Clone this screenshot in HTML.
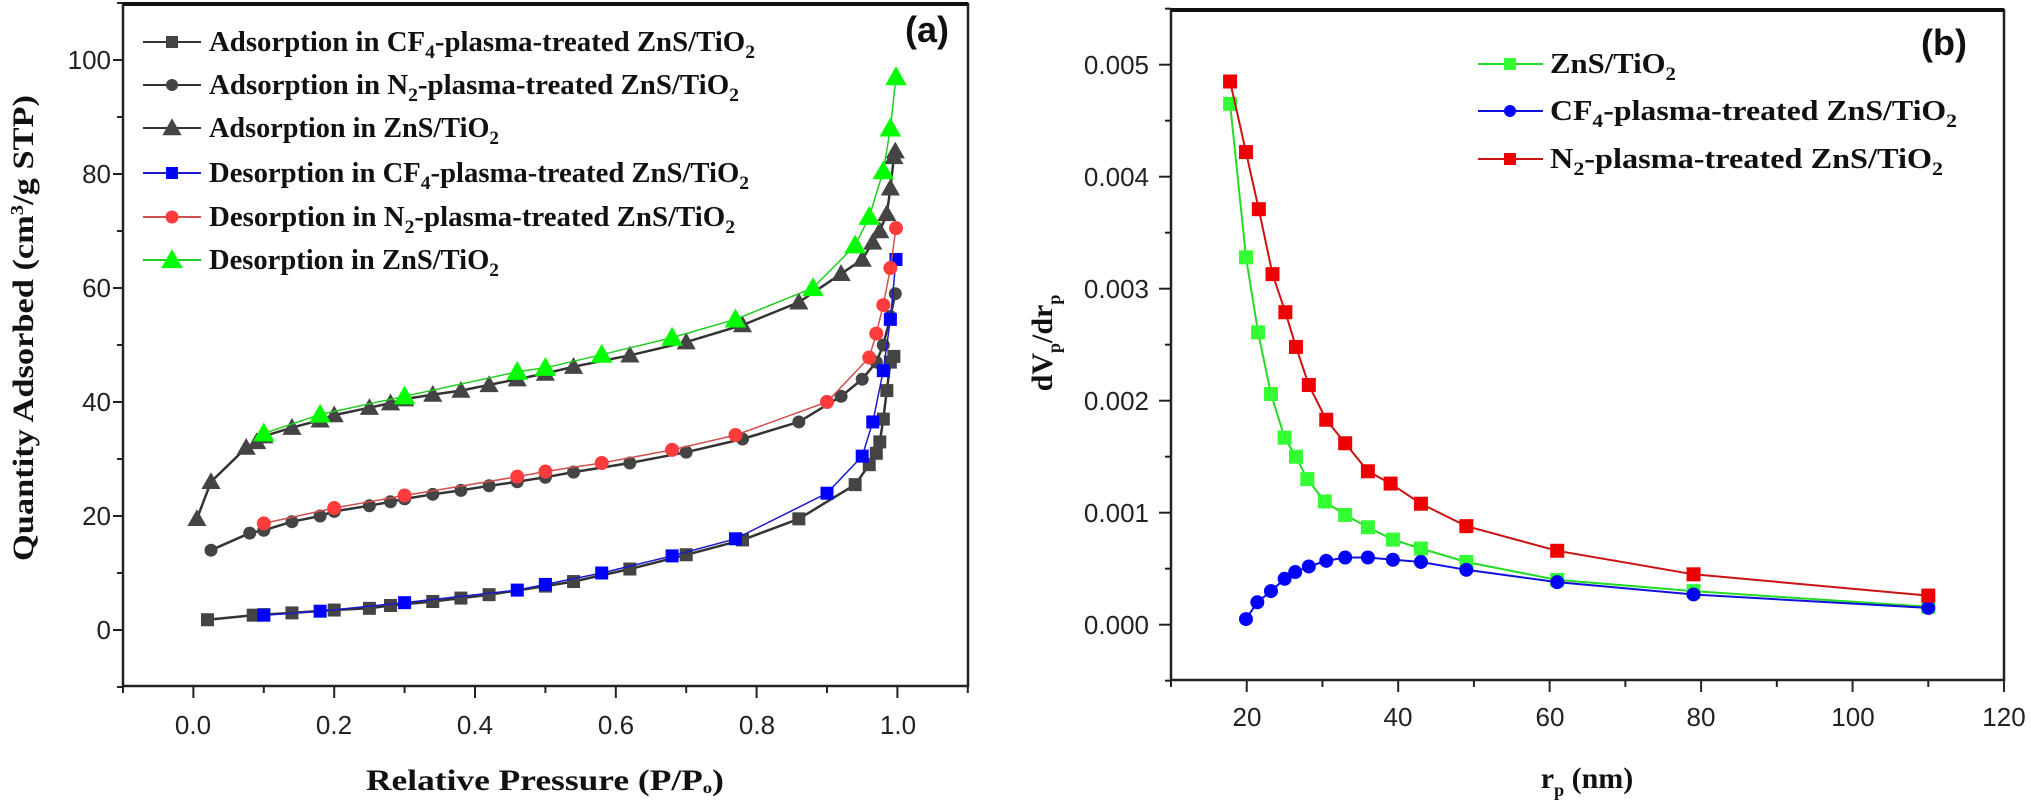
<!DOCTYPE html>
<html><head><meta charset="utf-8"><style>
html,body{margin:0;padding:0;background:#fff}
svg{display:block}
.tk{font-family:"Liberation Sans",Arial,sans-serif;font-size:26px;fill:#222}
.lg{font-family:"Liberation Serif",serif;font-weight:bold;font-size:28px;fill:#111}
.tt{font-family:"Liberation Serif",serif;font-weight:bold;font-size:30px;fill:#111}
.pl{font-family:"Liberation Sans",sans-serif;font-weight:bold;font-size:36px;fill:#111}
</style></head><body>
<svg id="s" width="2031" height="803" viewBox="0 0 2031 803" xmlns="http://www.w3.org/2000/svg">
<rect width="2031" height="803" fill="#fff"/>
<rect x="123" y="4" width="845" height="682" fill="none" stroke="#222" stroke-width="2.5"/>
<line x1="123" y1="4" x2="968" y2="4" stroke="#111" stroke-width="4"/>
<g id="ta"></g>
<g class="tk" text-anchor="end">
<text x="111" y="639">0</text><text x="111" y="525">20</text><text x="111" y="411">40</text>
<text x="111" y="297">60</text><text x="111" y="183">80</text><text x="111" y="69">100</text>
</g>
<g class="tk" text-anchor="middle">
<text x="193" y="734">0.0</text><text x="334" y="734">0.2</text><text x="475" y="734">0.4</text>
<text x="616" y="734">0.6</text><text x="757" y="734">0.8</text><text x="898" y="734">1.0</text>
</g>
<text class="tt" x="545" y="790" text-anchor="middle" textLength="358" lengthAdjust="spacingAndGlyphs">Relative Pressure (P/P<tspan font-size="16" dy="3">o</tspan><tspan dy="-3">)</tspan></text>
<text class="tt" transform="translate(33,328) rotate(-90)" text-anchor="middle" textLength="466" lengthAdjust="spacingAndGlyphs">Quantity Adsorbed (cm<tspan font-size="18" dy="-10">3</tspan><tspan dy="10">/g STP)</tspan></text>
<text class="pl" x="905" y="42">(a)</text>

<rect x="1171" y="10" width="833" height="670" fill="none" stroke="#222" stroke-width="2.5"/>
<line x1="1171" y1="10" x2="2004" y2="10" stroke="#111" stroke-width="4"/>
<g id="tb"></g>
<g class="tk" text-anchor="end">
<text x="1149" y="634">0.000</text><text x="1149" y="522">0.001</text><text x="1149" y="410">0.002</text>
<text x="1149" y="298">0.003</text><text x="1149" y="186">0.004</text><text x="1149" y="74">0.005</text>
</g>
<g class="tk" text-anchor="middle">
<text x="1247" y="726">20</text><text x="1398" y="726">40</text><text x="1550" y="726">60</text>
<text x="1701" y="726">80</text><text x="1853" y="726">100</text><text x="2004" y="726">120</text>
</g>
<text class="tt" x="1587" y="788" text-anchor="middle">r<tspan font-size="18" dy="8">p</tspan><tspan dy="-8"> (nm)</tspan></text>
<text class="tt" transform="translate(1052,343) rotate(-90)" text-anchor="middle">dV<tspan font-size="18" dy="8">p</tspan><tspan dy="-8">/dr</tspan><tspan font-size="18" dy="8">p</tspan></text>
<text class="pl" x="1921" y="55">(b)</text>

<g id="data"></g>
<g id="leg"></g>
<g class="lg">
<text x="209" y="51" textLength="546" lengthAdjust="spacingAndGlyphs">Adsorption in CF<tspan font-size="19" dy="7">4</tspan><tspan dy="-7">-plasma-treated ZnS/TiO</tspan><tspan font-size="19" dy="7">2</tspan></text>
<text x="209" y="94" textLength="530" lengthAdjust="spacingAndGlyphs">Adsorption in N<tspan font-size="19" dy="7">2</tspan><tspan dy="-7">-plasma-treated ZnS/TiO</tspan><tspan font-size="19" dy="7">2</tspan></text>
<text x="209" y="137" textLength="290" lengthAdjust="spacingAndGlyphs">Adsorption in ZnS/TiO<tspan font-size="19" dy="7">2</tspan></text>
<text x="209" y="182" textLength="540" lengthAdjust="spacingAndGlyphs">Desorption in CF<tspan font-size="19" dy="7">4</tspan><tspan dy="-7">-plasma-treated ZnS/TiO</tspan><tspan font-size="19" dy="7">2</tspan></text>
<text x="209" y="226" textLength="526" lengthAdjust="spacingAndGlyphs">Desorption in N<tspan font-size="19" dy="7">2</tspan><tspan dy="-7">-plasma-treated ZnS/TiO</tspan><tspan font-size="19" dy="7">2</tspan></text>
<text x="209" y="269" textLength="290" lengthAdjust="spacingAndGlyphs">Desorption in ZnS/TiO<tspan font-size="19" dy="7">2</tspan></text>
<text x="1550" y="73" textLength="126" lengthAdjust="spacingAndGlyphs">ZnS/TiO<tspan font-size="19" dy="7">2</tspan></text>
<text x="1550" y="120" textLength="407" lengthAdjust="spacingAndGlyphs">CF<tspan font-size="19" dy="7">4</tspan><tspan dy="-7">-plasma-treated ZnS/TiO</tspan><tspan font-size="19" dy="7">2</tspan></text>
<text x="1550" y="168" textLength="393" lengthAdjust="spacingAndGlyphs">N<tspan font-size="19" dy="7">2</tspan><tspan dy="-7">-plasma-treated ZnS/TiO</tspan><tspan font-size="19" dy="7">2</tspan></text>
</g>
</svg>
<script>
(function(){
var NS="http://www.w3.org/2000/svg";
function el(p,t,a){var e=document.createElementNS(NS,t);for(var k in a)e.setAttribute(k,a[k]);p.appendChild(e);return e;}
var ta=document.getElementById('ta'),tb=document.getElementById('tb');
for(var i=-1;i<=11;i++){var x=193.4+70.4*i;var maj=(i>=0&&i%2==0&&i<=10);el(ta,'line',{x1:x,y1:686,x2:x,y2:maj?698:693,stroke:'#222','stroke-width':2});}
for(var v=-10;v<=110;v+=10){var y=630-5.7*v;var maj=(v%20==0&&v>=0&&v<=100);el(ta,'line',{x1:123,y1:y,x2:maj?113:117,y2:y,stroke:'#222','stroke-width':2});}
for(var r=10;r<=120;r+=10){var x=1171+(r-10)*7.573;var maj=(r%20==0);el(tb,'line',{x1:x,y1:680,x2:x,y2:maj?692:687,stroke:'#222','stroke-width':2});}
for(var k=-5;k<=55;k+=5){var y=624.7-k*11.2;var maj=(k%10==0&&k>=0);el(tb,'line',{x1:1171,y1:y,x2:maj?1159:1165,y2:y,stroke:'#222','stroke-width':2});}
var g=document.getElementById('data');
function mk(p,type,x,y,c,s){
 if(type=='s')el(p,'rect',{x:x-s/2,y:y-s/2,width:s,height:s,fill:c});
 else if(type=='c')el(p,'circle',{cx:x,cy:y,r:s/2,fill:c});
 else el(p,'polygon',{points:(x)+','+(y-s*0.6)+' '+(x-s*0.6)+','+(y+s*0.45)+' '+(x+s*0.6)+','+(y+s*0.45),fill:c});
}
function series(pts,fx,fy,lc,lw,mc,type,s){
 var d=pts.map(function(p,i){return (i?'L':'M')+fx(p[0]).toFixed(1)+' '+fy(p[1]).toFixed(1);}).join(' ');
 el(g,'path',{d:d,fill:'none',stroke:lc,'stroke-width':lw});
 pts.forEach(function(p){mk(g,type,fx(p[0]),fy(p[1]),mc,s);});
}
var ax=function(P){return 193.4+704*P;},ay=function(Q){return 630-5.7*Q;};
var gray='#444',gl='#333';
series([[0.02,1.8],[0.085,2.6],[0.1,2.7],[0.14,3.0],[0.2,3.5],[0.25,3.8],[0.28,4.3],[0.34,5],[0.38,5.6],[0.42,6.2],[0.5,7.7],[0.54,8.5],[0.62,10.7],[0.7,13.2],[0.78,15.8],[0.86,19.5],[0.94,25.5],[0.96,29],[0.97,31],[0.975,33],[0.98,37],[0.985,42],[0.99,47],[0.995,48]],ax,ay,gl,2.5,gray,'s',13);
series([[0.025,14],[0.08,17],[0.1,17.5],[0.14,19],[0.18,20],[0.2,20.8],[0.25,21.8],[0.28,22.5],[0.3,23],[0.34,23.8],[0.38,24.5],[0.42,25.3],[0.46,26],[0.5,26.8],[0.54,27.7],[0.62,29.3],[0.7,31.2],[0.78,33.5],[0.86,36.5],[0.92,41],[0.95,44],[0.97,47],[0.98,50],[0.99,55],[0.997,59]],ax,ay,gl,2.5,gray,'c',13);
series([[0.005,19.5],[0.025,26],[0.075,32],[0.09,33],[0.1,34],[0.14,35.5],[0.18,36.8],[0.2,37.7],[0.25,39],[0.28,39.8],[0.3,40.5],[0.34,41.3],[0.38,42],[0.42,43],[0.46,44],[0.5,45],[0.54,46.2],[0.62,48.2],[0.7,50.5],[0.78,53.5],[0.86,57.5],[0.92,62.5],[0.95,65],[0.965,68],[0.975,70],[0.985,73],[0.99,77.5],[0.995,83],[0.997,84]],ax,ay,gl,2.5,gray,'t',16);
series([[0.998,65],[0.99,54.5],[0.98,45.5],[0.965,36.5],[0.95,30.5],[0.9,24],[0.77,16],[0.68,13],[0.58,10],[0.5,8],[0.46,7],[0.3,4.8],[0.18,3.3],[0.1,2.6]],ax,ay,'#1a1acc',1.5,'#0000ff','s',13);
series([[0.998,70.5],[0.99,63.5],[0.98,57],[0.97,52],[0.96,47.8],[0.9,40],[0.77,34.2],[0.68,31.6],[0.58,29.3],[0.5,27.8],[0.46,26.9],[0.3,23.6],[0.2,21.4],[0.1,18.7]],ax,ay,'#d05050',1.5,'#ff3b3b','c',14);
series([[0.998,97],[0.99,88],[0.98,80.5],[0.96,72.5],[0.94,67.5],[0.88,60],[0.77,54.5],[0.68,51.3],[0.58,48.3],[0.5,46],[0.46,45.3],[0.3,41],[0.18,37.8],[0.1,34.5]],ax,ay,'#22cc22',1.5,'#00ff00','t',18);
var bx=function(r){return 1171+(r-10)*7.573;},by=function(v){return 624.7-v*112000;};
series([[17.8,0.00465],[19.9,0.00328],[21.5,0.00261],[23.2,0.00206],[25,0.00167],[26.5,0.0015],[28,0.0013],[30.3,0.0011],[33,0.00098],[36,0.00087],[39.3,0.00076],[43,0.00068],[49,0.00056],[61,0.0004],[79,0.0003],[110,0.00016]],bx,by,'#22dd22',2,'#33ff33','s',14);
series([[19.9,0.00005],[21.4,0.0002],[23.2,0.0003],[25,0.00041],[26.4,0.00047],[28.2,0.00052],[30.5,0.00057],[33,0.0006],[36,0.0006],[39.3,0.00058],[43,0.00056],[49,0.00049],[61,0.00038],[79,0.00027],[110,0.00015]],bx,by,'#1111dd',2,'#0000ff','c',14);
series([[17.8,0.00485],[19.9,0.00422],[21.6,0.00371],[23.4,0.00313],[25.1,0.00279],[26.5,0.00248],[28.2,0.00214],[30.5,0.00183],[33,0.00162],[36,0.00137],[39,0.00126],[43,0.00108],[49,0.00088],[61,0.00066],[79,0.00045],[110,0.00026]],bx,by,'#cc1111',2,'#ee0000','s',14);
var lg=document.getElementById('leg');
var L=[[42,gl,gray,'s',12],[85,gl,gray,'c',12],[128,gl,gray,'t',16],[173,'#1a1acc','#0000ff','s',12],[217,'#d05050','#ff3b3b','c',13],[260,'#22cc22','#00ff00','t',18]];
L.forEach(function(a){el(lg,'line',{x1:143,y1:a[0],x2:201,y2:a[0],stroke:a[1],'stroke-width':2});mk(lg,a[3],172,a[0],a[2],a[4]);});
var M=[[64,'#22dd22','#33ff33','s'],[111,'#1111dd','#0000ff','c'],[159,'#cc1111','#ee0000','s']];
M.forEach(function(a){el(lg,'line',{x1:1478,y1:a[0],x2:1543,y2:a[0],stroke:a[1],'stroke-width':2});mk(lg,a[3],1510,a[0],a[2],12);});
})();
</script>
</body></html>
